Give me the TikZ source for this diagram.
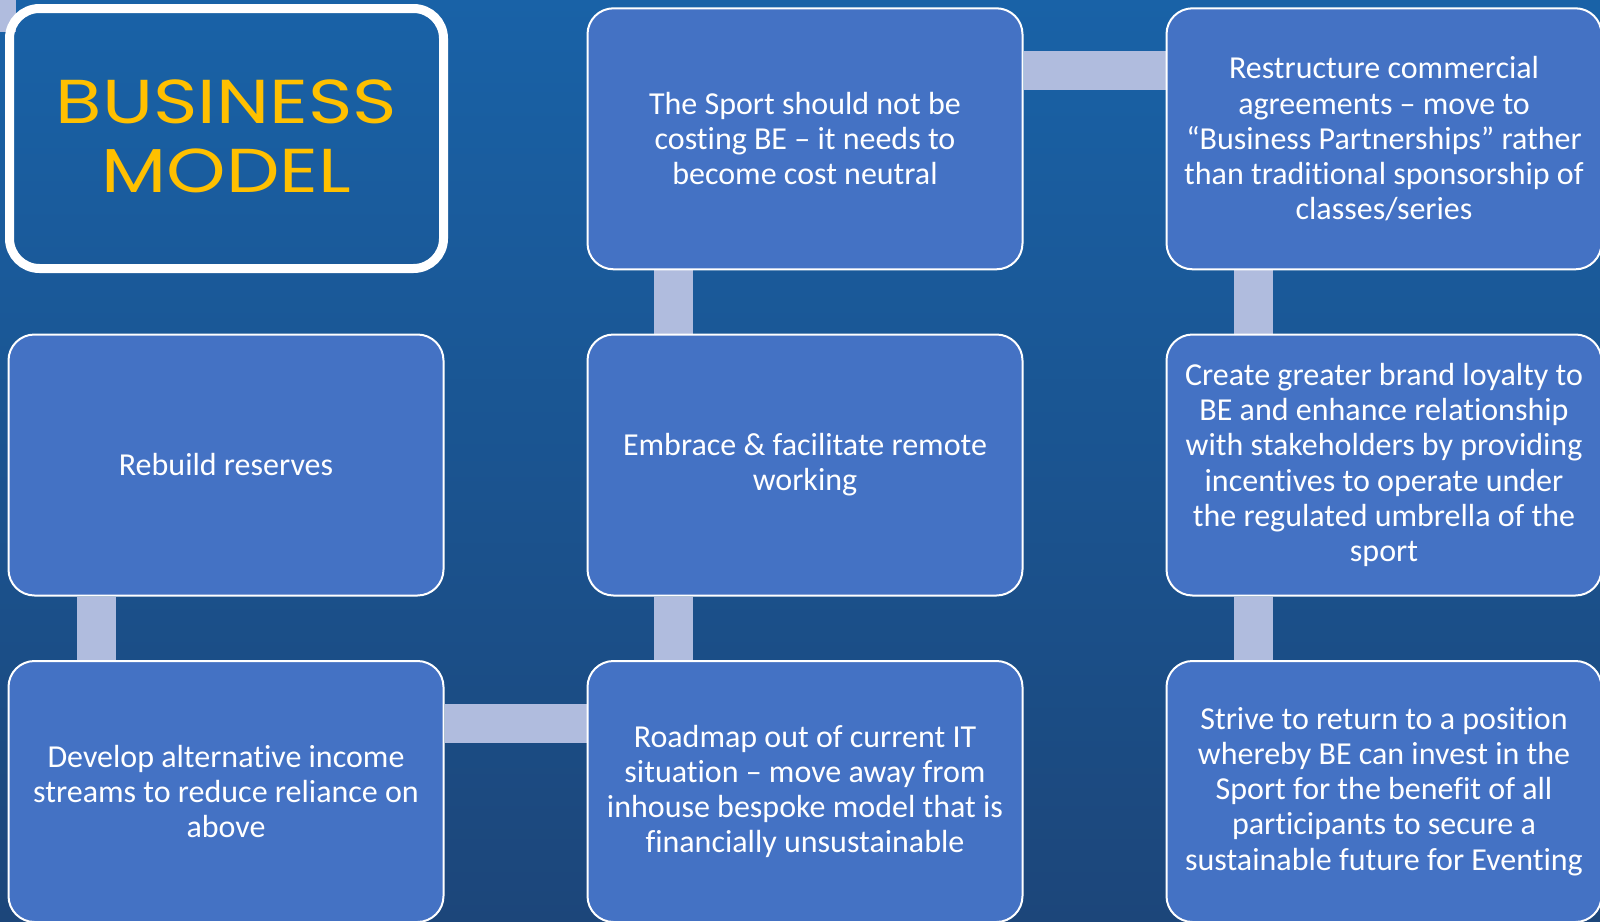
\documentclass[tikz,border=0pt]{standalone}
\usepackage{fontspec}
\setmainfont{Carlito}[Ligatures={TeX,NoCommon}]
\newfontfamily\titlefont[FakeStretch=1.22]{Poppins}
\usetikzlibrary{calc}
\definecolor{bgtop}{RGB}{25,98,167}
\definecolor{bgbot}{RGB}{28,70,122}
\definecolor{boxfill}{RGB}{68,114,196}
\definecolor{connc}{RGB}{176,188,222}
\definecolor{titleyel}{RGB}{255,192,0}
\pgfdeclarelayer{back}
\pgfdeclarelayer{conn}
\pgfsetlayers{back,conn,main}
\tikzset{
  card/.style={draw=white, line width=1pt, fill=boxfill, rounded corners=13pt,
    minimum width=217.5pt, minimum height=130.5pt, inner sep=0pt,
    text=white, align=center, font=\fontsize{16}{17.6}\selectfont},
  titlecard/.style={draw=white, line width=4.5pt, fill=none, rounded corners=15pt,
    minimum width=217pt, minimum height=130pt, inner sep=0pt},
  titletext/.style={text=titleyel, align=center, inner sep=0pt,
    font=\titlefont\fontsize{31}{34.5}\selectfont},
  bar/.style={draw=connc, line width=19.5pt}
}
\begin{document}
\begin{tikzpicture}[x=0.5pt,y=-0.5pt]
\useasboundingbox (0,0) rectangle (1600,921);
\clip (0,0) rectangle (1600,921);
\begin{pgfonlayer}{back}
\shade[top color=bgtop, bottom color=bgbot] (0,0) rectangle (1600,921);
\end{pgfonlayer}
% title
\node[titlecard] (b11) at (226.5,138.5) {};
\node[titletext] (t11) at (226.5,136) {BUSINESS\\MODEL};
% cards
\node[card] (b12) at (805,138.8) {The Sport should not be\\costing BE – it needs to\\become cost neutral};
\node[card] (b13) at (1384,138.8) {Restructure commercial\\agreements – move to\\“Business Partnerships” rather\\than traditional sponsorship of\\classes/series};
\node[card] (b21) at (226,465) {Rebuild reserves};
\node[card] (b22) at (805,465) {Embrace \& facilitate remote\\working};
\node[card] (b23) at (1384,465) {Create greater brand loyalty to\\BE and enhance relationship\\with stakeholders by providing\\incentives to operate under\\the regulated umbrella of the\\sport};
\node[card] (b31) at (226,791.5) {Develop alternative income\\streams to reduce reliance on\\above};
\node[card] (b32) at (805,791.5) {Roadmap out of current IT\\situation – move away from\\inhouse bespoke model that is\\financially unsustainable};
\node[card] (b33) at (1384,791.5) {Strive to return to a position\\whereby BE can invest in the\\Sport for the benefit of all\\participants to secure a\\sustainable future for Eventing};
% connectors
\begin{pgfonlayer}{conn}
\fill[connc] (0,0) rectangle (16,32);
\draw[bar] ([yshift=-31.5pt]b12.north east) -- ([yshift=-31.5pt]b13.north west);
\draw[bar] ([xshift=43.5pt]b12.south west) -- ([xshift=43.5pt]b22.north west);
\draw[bar] ([xshift=43.5pt]b22.south west) -- ([xshift=43.5pt]b32.north west);
\draw[bar] ([xshift=44pt]b13.south west) -- ([xshift=44pt]b23.north west);
\draw[bar] ([xshift=44pt]b23.south west) -- ([xshift=44pt]b33.north west);
\draw[bar] ([xshift=44.5pt]b21.south west) -- ([xshift=44.5pt]b31.north west);
\draw[bar] ([yshift=-31.5pt]b31.north east) -- ([yshift=-31.5pt]b32.north west);
\end{pgfonlayer}
\end{tikzpicture}
\end{document}
